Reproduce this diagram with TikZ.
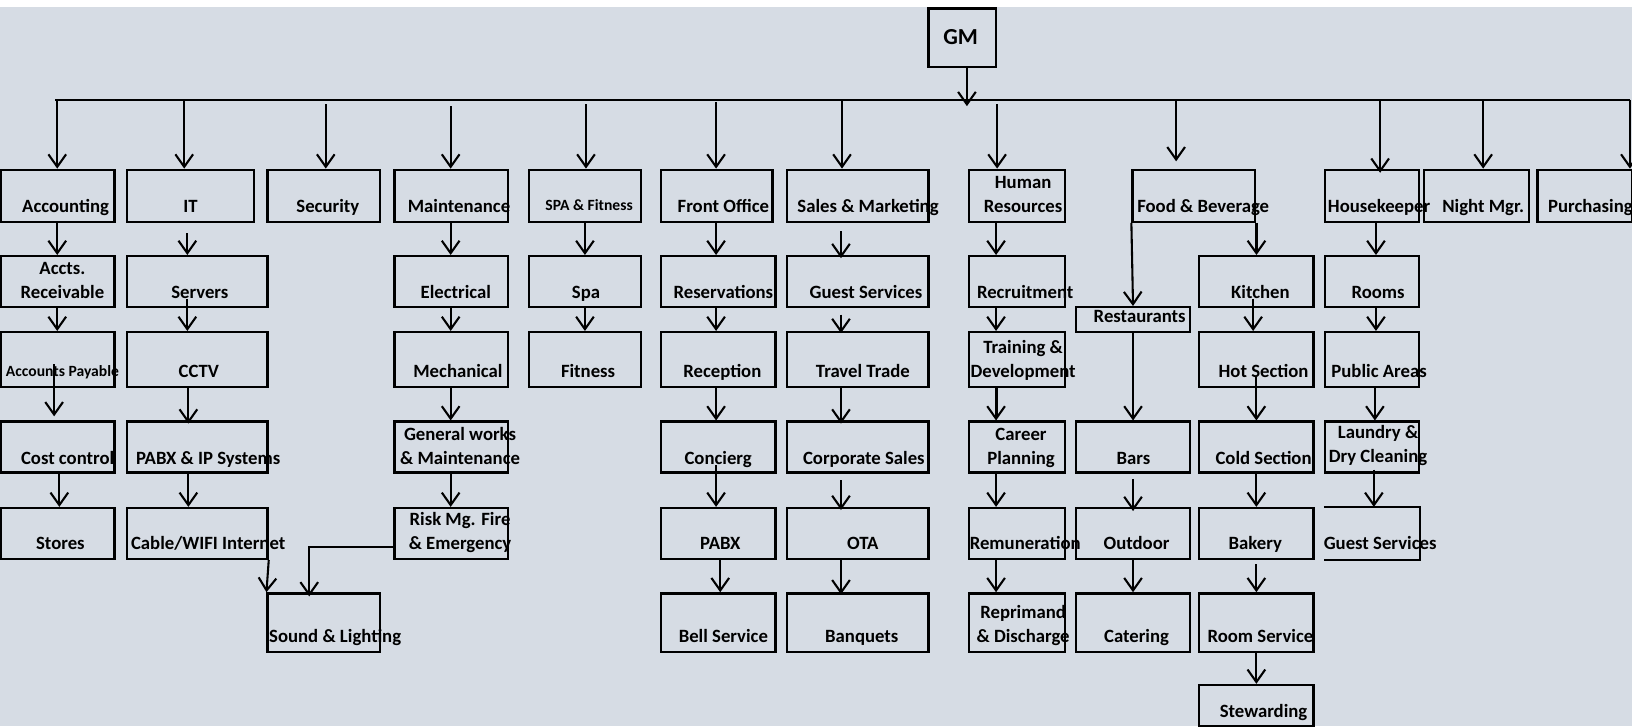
\documentclass[tikz,border=0pt]{standalone}
\usepackage{fontspec}
\setmainfont{Carlito}
\usetikzlibrary{arrows.meta}
\definecolor{bgc}{HTML}{D6DCE4}
\tikzset{
  box/.style={draw, line width=2.2pt, anchor=north west, inner sep=0pt},
  txt/.style={anchor=base, inner sep=0pt, align=center, font=\bfseries\fontsize{18}{23}\selectfont},
  smalltxt/.style={txt, font=\bfseries\fontsize{15}{19}\selectfont},
  arr/.style={line width=2pt, -{Straight Barb[length=12pt,width=17pt,line width=2pt]}},
  bus/.style={line width=1.6pt}
}
\begin{document}
\begin{tikzpicture}[x=1pt, y=-1pt]
\useasboundingbox (0,0) rectangle (1568,698);
\fill[white] (0,0) rectangle (1568,698);
\fill[bgc] (0,7) rectangle (1568,698);

\node[box, minimum width=65pt, minimum height=56pt] (gm) at (891,7) {};
\node[txt, font=\bfseries\fontsize{22}{26}\selectfont] (gm-t) at (923,43) {GM};

% first row
\node[box, minimum width=109pt, minimum height=50pt] (acc) at (0,162) {};
\node[box, minimum width=122pt, minimum height=50pt] (it) at (121,162) {};
\node[box, minimum width=108pt, minimum height=50pt] (sec) at (256,162) {};
\node[box, minimum width=109pt, minimum height=50pt] (mnt) at (378,162) {};
\node[box, minimum width=108pt, minimum height=50pt] (spa) at (507,162) {};
\node[box, minimum width=107pt, minimum height=50pt] (fo) at (634,162) {};
\node[box, minimum width=136pt, minimum height=50pt] (sm) at (755,162) {};
\node[box, minimum width=92pt, minimum height=50pt] (hr) at (930,162) {};
\node[box, minimum width=118pt, minimum height=50pt] (fb) at (1087,162) {};
\node[box, minimum width=90pt, minimum height=50pt] (hk) at (1272,162) {};
\node[box, minimum width=101pt, minimum height=50pt] (nm) at (1367,162) {};
\node[box, minimum width=91pt, minimum height=50pt] (pur) at (1476,162) {};
\node[txt] (acc-t) at (63,204) {Accounting};
\node[txt] (it-t) at (183,204) {IT};
\node[txt] (sec-t) at (315,204) {Security};
\node[txt] (mnt-t) at (441,204) {Maintenance};
\node[smalltxt] (spa-t) at (566,202) {SPA \& Fitness};
\node[txt] (fo-t) at (695,204) {Front Office};
\node[txt] (sm-t) at (834,204) {Sales \& Marketing};
\node[txt] (hr-t) at (983,204) {Human\\Resources};
\node[txt] (fb-t) at (1156,204) {Food \& Beverage};
\node[txt] (hk-t) at (1325,204) {Housekeeper};
\node[txt] (nm-t) at (1425,204) {Night Mgr.};
\node[txt] (pur-t) at (1528,204) {Purchasing};

% second row
\node[box, minimum width=109pt, minimum height=49pt] (accr) at (0,245) {};
\node[box, minimum width=135pt, minimum height=49pt] (srv) at (121,245) {};
\node[box, minimum width=109pt, minimum height=49pt] (elec) at (378,245) {};
\node[box, minimum width=108pt, minimum height=49pt] (spa2) at (507,245) {};
\node[box, minimum width=110pt, minimum height=49pt] (res) at (634,245) {};
\node[box, minimum width=136pt, minimum height=49pt] (gsv) at (755,245) {};
\node[box, minimum width=92pt, minimum height=49pt] (recr) at (930,245) {};
\node[box, minimum width=110pt, minimum height=49pt] (kit) at (1151,245) {};
\node[box, minimum width=90pt, minimum height=49pt] (rooms) at (1272,245) {};
\node[box, minimum width=109pt, minimum height=24pt] (rest) at (1033,294) {};
\node[txt] (accr-t) at (60,287) {Accts.\\Receivable};
\node[txt] (srv-t) at (192,287) {Servers};
\node[txt] (elec-t) at (438,287) {Electrical};
\node[txt] (spa2-t) at (563,287) {Spa};
\node[txt] (res-t) at (695,287) {Reservations};
\node[txt] (gsv-t) at (832,287) {Guest Services};
\node[txt] (recr-t) at (985,287) {Recruitment};
\node[txt] (kit-t) at (1211,287) {Kitchen};
\node[txt] (rooms-t) at (1324,287) {Rooms};
\node[txt] (rest-t) at (1095,310) {Restaurants};

% third row
\node[box, minimum width=109pt, minimum height=53pt] (ap) at (0,318) {};
\node[box, minimum width=135pt, minimum height=53pt] (cctv) at (121,318) {};
\node[box, minimum width=109pt, minimum height=53pt] (mech) at (378,318) {};
\node[box, minimum width=108pt, minimum height=53pt] (fit) at (507,318) {};
\node[box, minimum width=110pt, minimum height=53pt] (recp) at (634,318) {};
\node[box, minimum width=136pt, minimum height=53pt] (tt) at (755,318) {};
\node[box, minimum width=92pt, minimum height=53pt] (trn) at (930,318) {};
\node[box, minimum width=110pt, minimum height=53pt] (hot) at (1151,318) {};
\node[box, minimum width=90pt, minimum height=53pt] (pub) at (1272,318) {};
\node[smalltxt] (ap-t) at (60,362) {Accounts Payable};
\node[txt] (cctv-t) at (191,363) {CCTV};
\node[txt] (mech-t) at (440,363) {Mechanical};
\node[txt] (fit-t) at (565,363) {Fitness};
\node[txt] (recp-t) at (694,363) {Reception};
\node[txt] (tt-t) at (829,363) {Travel Trade};
\node[txt] (trn-t) at (983,363) {Training \&\\Development};
\node[txt] (hot-t) at (1214,363) {Hot Section};
\node[txt] (pub-t) at (1325,363) {Public Areas};

% fourth row
\node[box, minimum width=109pt, minimum height=49pt] (cc) at (0,404) {};
\node[box, minimum width=135pt, minimum height=49pt] (pabxip) at (121,404) {};
\node[box, minimum width=109pt, minimum height=49pt] (gw) at (378,404) {};
\node[box, minimum width=110pt, minimum height=49pt] (conc) at (634,404) {};
\node[box, minimum width=136pt, minimum height=49pt] (corp) at (755,404) {};
\node[box, minimum width=92pt, minimum height=49pt] (car) at (930,404) {};
\node[box, minimum width=109pt, minimum height=49pt] (bars) at (1033,404) {};
\node[box, minimum width=110pt, minimum height=49pt] (cold) at (1151,404) {};
\node[box, minimum width=90pt, minimum height=49pt] (laun) at (1272,404) {};
\node[txt] (cc-t) at (65,446) {Cost control};
\node[txt] (pabxip-t) at (200,446) {PABX \& IP Systems};
\node[txt] (gw-t) at (442,446) {General works\\\& Maintenance};
\node[txt] (conc-t) at (690,446) {Concierg};
\node[txt] (corp-t) at (830,446) {Corporate Sales};
\node[txt] (car-t) at (981,446) {Career\\Planning};
\node[txt] (bars-t) at (1089,446) {Bars};
\node[txt] (cold-t) at (1214,446) {Cold Section};
\node[txt] (laun-t) at (1324,444) {Laundry \&\\Dry Cleaning};

% fifth row
\node[box, minimum width=109pt, minimum height=49pt] (sto) at (0,487) {};
\node[box, minimum width=135pt, minimum height=49pt] (cab) at (121,487) {};
\node[box, minimum width=109pt, minimum height=49pt] (risk) at (378,487) {};
\node[box, minimum width=110pt, minimum height=49pt] (pabx) at (634,487) {};
\node[box, minimum width=136pt, minimum height=49pt] (ota) at (755,487) {};
\node[box, minimum width=92pt, minimum height=49pt] (rem) at (930,487) {};
\node[box, minimum width=109pt, minimum height=49pt] (outd) at (1033,487) {};
\node[box, minimum width=110pt, minimum height=49pt] (bak) at (1151,487) {};
\node[box, draw=none, minimum width=90pt, minimum height=49pt] (hgs) at (1272,487) {};
\draw[line width=2.2pt] (hgs.north west) -- (hgs.north east) -- (hgs.south east) -- (hgs.south west);
\node[txt] (sto-t) at (58,528) {Stores};
\node[txt] (cab-t) at (200,528) {Cable/WIFI Internet};
\node[txt] (risk-t) at (442,528) {Risk Mg. Fire\\\& Emergency};
\node[txt] (pabx-t) at (692,528) {PABX};
\node[txt] (ota-t) at (829,528) {OTA};
\node[txt] (rem-t) at (985,528) {Remuneration};
\node[txt] (outd-t) at (1092,528) {Outdoor};
\node[txt] (bak-t) at (1206,528) {Bakery};
\node[txt] (hgs-t) at (1326,528) {Guest Services};

% sixth row
\node[box, minimum width=108pt, minimum height=56pt] (snd) at (256,569) {};
\node[box, minimum width=110pt, minimum height=56pt] (bell) at (634,569) {};
\node[box, minimum width=136pt, minimum height=56pt] (banq) at (755,569) {};
\node[box, minimum width=92pt, minimum height=56pt] (repr) at (930,569) {};
\node[box, minimum width=109pt, minimum height=56pt] (cat) at (1033,569) {};
\node[box, minimum width=110pt, minimum height=56pt] (rsv) at (1151,569) {};
\node[box, minimum width=110pt, minimum height=40pt] (stw) at (1151,657) {};
\node[txt] (snd-t) at (322,617) {Sound \& Lighting};
\node[txt] (bell-t) at (695,617) {Bell Service};
\node[txt] (banq-t) at (828,617) {Banquets};
\node[txt] (repr-t) at (983,617) {Reprimand\\\& Discharge};
\node[txt] (cat-t) at (1092,617) {Catering};
\node[txt] (rsv-t) at (1211,617) {Room Service};
\node[txt] (stw-t) at (1214,689) {Stewarding};

% bus from GM
\coordinate (bus) at (0,96);
\draw[bus] (bus -| 53,0) -- (bus -| 1566,0);
\draw[arr] (gm.south -| 929,0) -- ([yshift=-6pt]bus -| 929,0);
\draw[arr] (bus -| 55,0) -- (acc.north -| 55,0);
\draw[arr] (bus -| 177,0) -- (it.north -| 177,0);
\draw[arr] ([yshift=-4pt]bus -| 313,0) -- (sec.north -| 313,0);
\draw[arr] ([yshift=-6pt]bus -| 433,0) -- (mnt.north -| 433,0);
\draw[arr] ([yshift=-4pt]bus -| 563,0) -- (spa.north -| 563,0);
\draw[arr] ([yshift=-2pt]bus -| 688,0) -- (fo.north -| 688,0);
\draw[arr] (bus -| 809,0) -- (sm.north -| 809,0);
\draw[arr] ([yshift=-4pt]bus -| 958,0) -- (hr.north -| 958,0);
\draw[arr] (bus -| 1130,0) -- ([yshift=7pt]fb.north -| 1130,0);
\draw[arr] (bus -| 1326,0) -- ([yshift=-4pt]hk.north -| 1326,0);
\draw[arr] (bus -| 1425,0) -- (nm.north -| 1425,0);
\draw[arr] (bus -| 1566,0) -- (pur.north -| 1566,0);

% accounting
\draw[arr] (acc.south -| 55,0) -- (accr.north -| 55,0);
\draw[arr] (accr.south -| 55,0) -- (ap.north -| 55,0);
\draw[arr] ([yshift=23pt]ap.south -| 52,0) -- ([yshift=4pt]cc.north -| 52,0);
\draw[arr] (cc.south -| 57,0) -- (sto.north -| 57,0);

% IT
\draw[arr] ([yshift=-10pt]it.south -| 180,0) -- (srv.north -| 180,0);
\draw[arr] ([yshift=9pt]srv.south -| 180,0) -- (cctv.north -| 180,0);
\draw[arr] (cctv.south -| 181,0) -- ([yshift=-3pt]pabxip.north -| 181,0);
\draw[arr] (pabxip.south -| 181,0) -- (cab.north -| 181,0);
\draw[arr] (cab.south east) -- (snd.north west);
\draw[arr] ([yshift=-13pt]risk.west) -| ([xshift=-14pt, yshift=-4pt]snd.north);

% maintenance
\draw[arr] (mnt.south -| 433,0) -- (elec.north -| 433,0);
\draw[arr] (elec.south -| 433,0) -- (mech.north -| 433,0);
\draw[arr] (mech.south -| 433,0) -- (gw.north -| 433,0);
\draw[arr] (gw.south -| 433,0) -- (risk.north -| 433,0);

% spa
\draw[arr] (spa.south -| 562,0) -- (spa2.north -| 562,0);
\draw[arr] (spa2.south -| 562,0) -- (fit.north -| 562,0);

% front office
\draw[arr] (fo.south -| 688,0) -- (res.north -| 688,0);
\draw[arr] (res.south -| 688,0) -- (recp.north -| 688,0);
\draw[arr] (recp.south -| 688,0) -- (conc.north -| 688,0);
\draw[arr] ([yshift=8pt]conc.south -| 688,0) -- (pabx.north -| 688,0);
\draw[arr] (pabx.south -| 692,0) -- (bell.north -| 692,0);

% sales
\draw[arr] ([yshift=-8pt]sm.south -| 808,0) -- ([yshift=-3pt]gsv.north -| 808,0);
\draw[arr] ([yshift=-6pt]gsv.south -| 808,0) -- ([yshift=-2pt]tt.north -| 808,0);
\draw[arr] (tt.south -| 808,0) -- ([yshift=-3pt]corp.north -| 808,0);
\draw[arr] ([yshift=-6pt]corp.south -| 808,0) -- ([yshift=-3pt]ota.north -| 808,0);
\draw[arr] (ota.south -| 808,0) -- ([yshift=-2pt]banq.north -| 808,0);

% human resources
\draw[arr] (hr.south -| 957,0) -- (recr.north -| 957,0);
\draw[arr] (recr.south -| 957,0) -- (trn.north -| 957,0);
\draw[arr, line width=3pt] (trn.south -| 957,0) -- (car.north -| 957,0);
\draw[arr] (car.south -| 957,0) -- (rem.north -| 957,0);
\draw[arr] (rem.south -| 957,0) -- (repr.north -| 957,0);

% food and beverage
\draw[arr] (fb.south west) -- (rest.north);
\draw[arr] (fb.south east) -- (kit.north -| fb.south east);
\draw[arr] (rest.south) -- (bars.north);
\draw[arr] ([yshift=-5pt]bars.south) -- ([yshift=-4pt]outd.north);
\draw[arr] (outd.south) -- (cat.north);
\draw[arr] ([yshift=9pt]kit.south -| 1204,0) -- (hot.north -| 1204,0);
\draw[arr] ([yshift=11pt]hot.south) -- (cold.north);
\draw[arr] (cold.south) -- (bak.north);
\draw[arr] ([yshift=-4pt]bak.south) -- (rsv.north);
\draw[arr] (rsv.south) -- (stw.north);

% housekeeping
\draw[arr] (hk.south -| 1322,0) -- (rooms.north -| 1322,0);
\draw[arr] (rooms.south -| 1322,0) -- (pub.north -| 1322,0);
\draw[arr] (pub.south -| 1321,0) -- (laun.north -| 1321,0);
\draw[arr] ([yshift=4pt]laun.south -| 1320,0) -- (hgs.north -| 1320,0);
\end{tikzpicture}
\end{document}
